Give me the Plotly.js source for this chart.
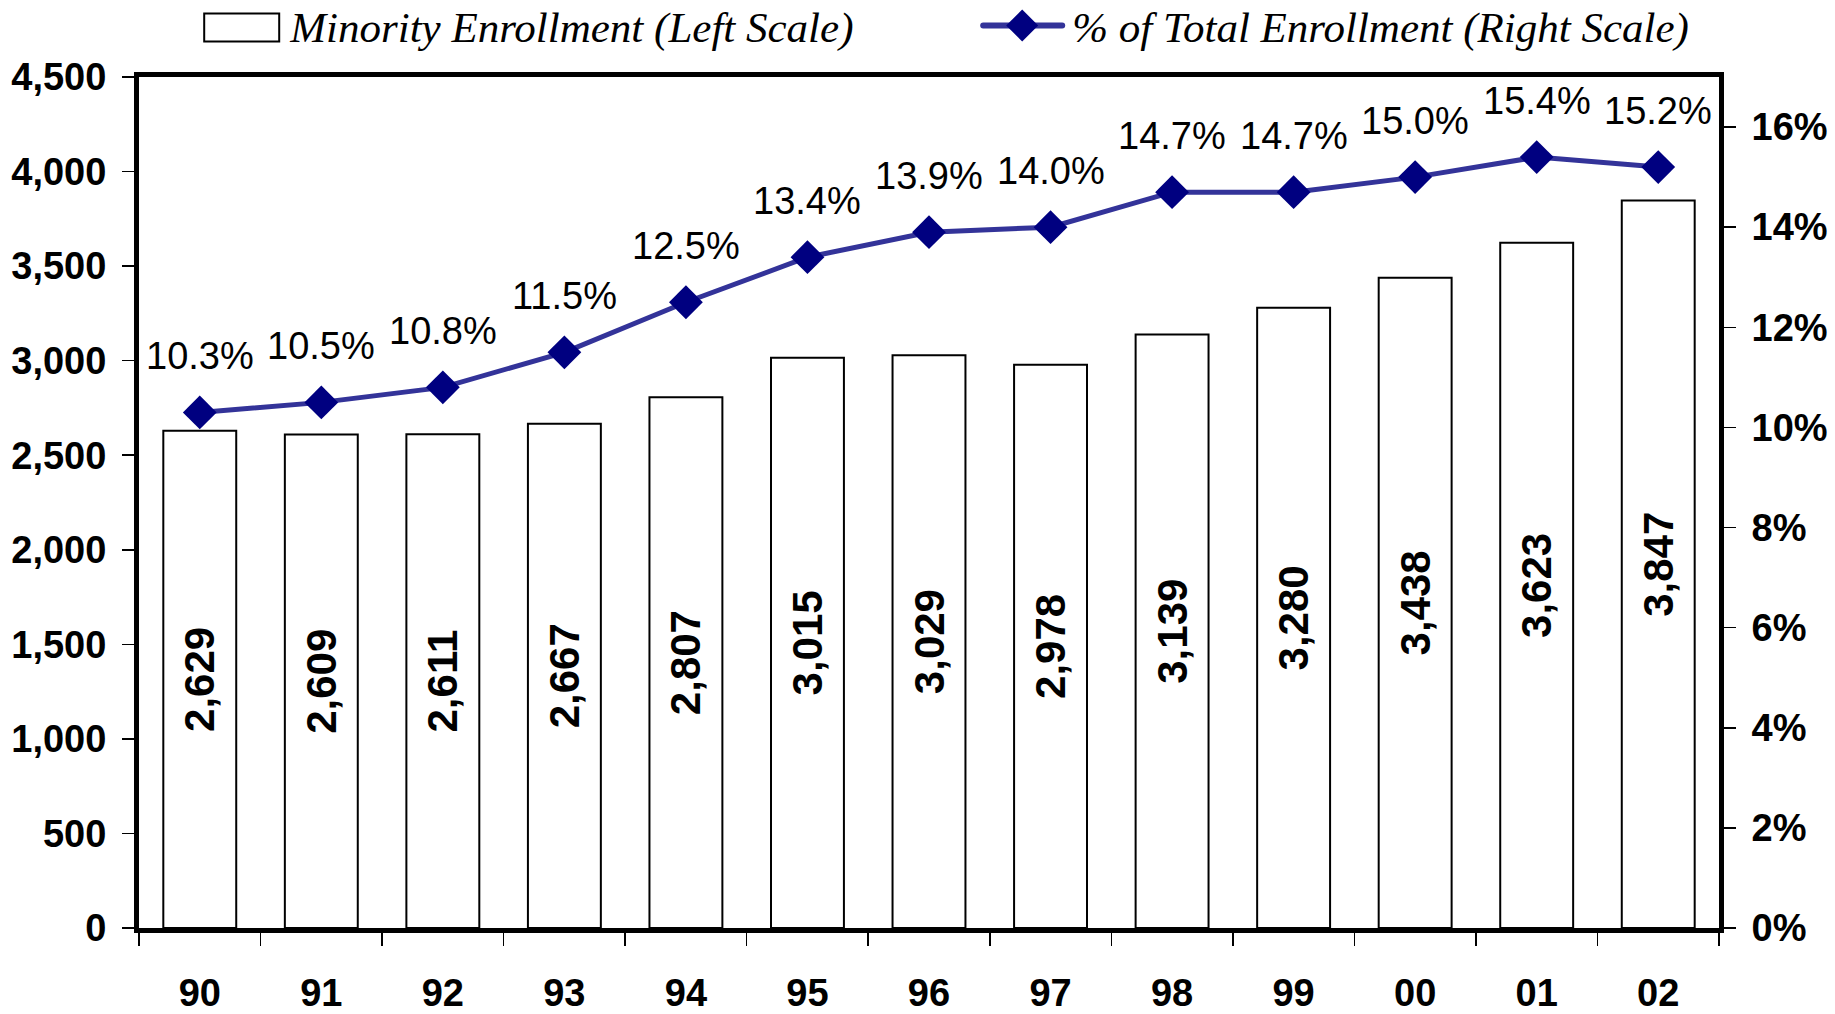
<!DOCTYPE html>
<html>
<head>
<meta charset="utf-8">
<script src="https://cdn.plot.ly/plotly-3.0.1.min.js"></script>
<style>html,body{margin:0;padding:0;background:#fff;}#chart{width:1835px;height:1014px;}</style>
</head>
<body>
<div id="chart"></div>
<script>
// ---- data ----
const years = ['90','91','92','93','94','95','96','97','98','99','00','01','02'];
const enrollment = [2629, 2609, 2611, 2667, 2807, 3015, 3029, 2978, 3139, 3280, 3438, 3623, 3847];
const pctTotal = [10.3, 10.5, 10.8, 11.5, 12.5, 13.4, 13.9, 14.0, 14.7, 14.7, 15.0, 15.4, 15.2];
const leftTicks = [0, 500, 1000, 1500, 2000, 2500, 3000, 3500, 4000, 4500];
const rightTicks = [0, 2, 4, 6, 8, 10, 12, 14, 16];
const seriesNames = ['Minority Enrollment (Left Scale)', '% of Total Enrollment (Right Scale)'];

const SANS = 'Liberation Sans, Arial, sans-serif';
const SERIF = 'Liberation Serif, Times New Roman, serif';

const bars = {
  type: 'bar',
  name: seriesNames[0],
  x: years,
  y: enrollment,
  yaxis: 'y',
  width: 0.6,
  marker: {color: '#ffffff', line: {color: '#000000', width: 2}},
  text: enrollment.map(v => v.toLocaleString('en-US')),
  textposition: 'inside',
  insidetextanchor: 'middle',
  textangle: -90,
  textfont: {family: SANS, size: 42, color: '#000000', weight: 'bold'},
  hoverinfo: 'skip'
};

const line = {
  type: 'scatter',
  mode: 'lines+markers',
  name: seriesNames[1],
  x: years,
  y: pctTotal,
  yaxis: 'y2',
  line: {color: '#333399', width: 5},
  marker: {symbol: 'diamond', size: 26, color: '#000080'},
  hoverinfo: 'skip'
};

// category axis: annotations placed by category index
const annotations = years.map((yr, i) => ({
  x: i, y: pctTotal[i], xref: 'x', yref: 'y2',
  text: pctTotal[i].toFixed(1) + '%',
  showarrow: false, yshift: 56,
  font: {family: SANS, size: 38, color: '#000000'}
}));

const nCat = years.length;
const boundaries = years.map((_, i) => i + 0.5).concat([-0.5]);
const tickFont = {family: SANS, size: 38, color: '#000000', weight: 'bold'};

const layout = {
  width: 1835, height: 1014,
  margin: {l: 139, r: 116, t: 77, b: 86, pad: 0},
  paper_bgcolor: '#ffffff', plot_bgcolor: '#ffffff',
  showlegend: true,
  legend: {
    orientation: 'h', xref: 'container', yref: 'container',
    x: 0.12, xanchor: 'left', y: 0.9755, yanchor: 'middle',
    font: {family: SERIF, size: 43, style: 'italic', color: '#000000'},
    bgcolor: 'rgba(0,0,0,0)', entrywidth: 707, entrywidthmode: 'pixels',
    itemwidth: 60
  },
  xaxis: {
    type: 'category', range: [-0.5, nCat - 0.5], autorange: false,
    showgrid: false, zeroline: false,
    showline: true, linecolor: '#000000', linewidth: 5, mirror: true,
    ticks: 'outside', tickson: 'boundaries', ticklen: 13, tickcolor: '#000000', tickwidth: 1.5,
    tickfont: tickFont, ticklabelstandoff: 27, tickangle: 0
  },
  xaxis2: {
    overlaying: 'x', anchor: 'y', side: 'bottom', type: 'linear',
    range: [-0.5, nCat - 0.5], autorange: false, tickmode: 'array', tickvals: boundaries,
    showticklabels: false, showgrid: false, zeroline: false, showline: false,
    ticks: 'inside', ticklen: 13, tickcolor: '#000000', tickwidth: 1.5
  },
  yaxis: {
    range: [0, 4500], autorange: false, tickvals: leftTicks, tickformat: ',d',
    showgrid: false, zeroline: false,
    showline: true, linecolor: '#000000', linewidth: 5,
    ticks: 'outside', ticklen: 12, tickcolor: '#000000', tickwidth: 1.5,
    tickfont: tickFont, ticklabelstandoff: 8
  },
  yaxis2: {
    overlaying: 'y', side: 'right', anchor: 'x',
    range: [0, 17], autorange: false, tickmode: 'array',
    tickvals: rightTicks, ticktext: rightTicks.map(v => v + '%'),
    showgrid: false, zeroline: false,
    showline: true, linecolor: '#000000', linewidth: 5,
    ticks: 'outside', ticklen: 12, tickcolor: '#000000', tickwidth: 1.5,
    tickfont: tickFont, ticklabelstandoff: 8
  },
  yaxis3: {
    overlaying: 'y', side: 'left', anchor: 'x',
    range: [0, 4500], autorange: false, tickvals: leftTicks,
    showticklabels: false, showgrid: false, zeroline: false, showline: false,
    ticks: 'inside', ticklen: 12, tickcolor: '#000000', tickwidth: 1.5
  },
  yaxis4: {
    overlaying: 'y', side: 'right', anchor: 'x',
    range: [0, 17], autorange: false, tickvals: rightTicks,
    showticklabels: false, showgrid: false, zeroline: false, showline: false,
    ticks: 'inside', ticklen: 12, tickcolor: '#000000', tickwidth: 1.5
  },
  annotations: annotations
};

// enlarge legend symbols to resemble the original (box + long line with big diamond)
function toLocal(el, x, y) {
  const m = el.getScreenCTM().inverse();
  return new DOMPoint(x, y).matrixTransform(m);
}
function restyleLegend(gd) {
  try {
    gd.querySelectorAll('.legend [clip-path]').forEach(el => el.removeAttribute('clip-path'));
    const items = gd.querySelectorAll('.legend .traces');
    if (items.length < 2) return;
    // bar item
    const t0 = items[0].querySelector('.legendtext').getBoundingClientRect();
    const cy0 = (t0.top + t0.bottom) / 2;
    const barPath = items[0].querySelector('.legendpoints path');
    if (barPath) {
      const a = toLocal(barPath, t0.left - 85, cy0 - 14);
      const b = toLocal(barPath, t0.left - 10, cy0 + 14);
      barPath.setAttribute('d', `M${a.x},${a.y}H${b.x}V${b.y}H${a.x}Z`);
      barPath.style.strokeWidth = '2px';
      barPath.style.stroke = '#000000';
      barPath.style.fill = '#ffffff';
    }
    // line item
    const t1 = items[1].querySelector('.legendtext').getBoundingClientRect();
    const cy1 = (t1.top + t1.bottom) / 2 - 2;
    items[1].querySelectorAll('.legendlines path').forEach(p => {
      const a = toLocal(p, t1.left - 89, cy1);
      const b = toLocal(p, t1.left - 10, cy1);
      p.setAttribute('d', `M${a.x},${a.y}L${b.x},${b.y}`);
      p.style.strokeWidth = '6px';
      p.style.strokeLinecap = 'round';
    });
    items[1].querySelectorAll('.legendpoints path').forEach(p => {
      const parent = p.parentNode;
      const c = toLocal(parent, t1.left - 50, cy1);
      p.setAttribute('transform', `translate(${c.x},${c.y})`);
      const r = 16;
      p.setAttribute('d', `M${r},0L0,${r}L-${r},0L0,-${r}Z`);
    });
  } catch (e) { /* keep default legend */ }
}

Plotly.newPlot('chart', [bars, line], layout, {displayModeBar: false, staticPlot: true})
  .then(gd => restyleLegend(gd));
</script>
</body>
</html>
